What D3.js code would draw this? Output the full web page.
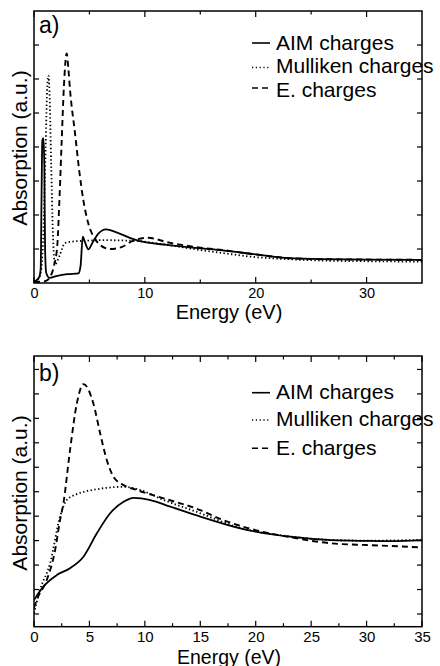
<!DOCTYPE html>
<html>
<head>
<meta charset="utf-8">
<script src="https://cdn.jsdelivr.net/npm/d3@7"></script>
<style>
  html, body { margin: 0; padding: 0; background: #fff; }
  svg { display: block; font-family: "Liberation Sans", Arial, sans-serif; }
</style>
</head>
<body>
<svg id="chart" width="440" height="666"></svg>
<script>
// ---------- Data ----------
const seriesNames = ["AIM charges", "Mulliken charges", "E. charges"];

// Panel a)
const aAimE = [0, 0.3, 0.5, 0.6, 0.68, 0.75, 0.85, 0.93, 1.0, 1.1, 1.4, 2.0, 3.0, 4.0, 4.2, 4.4, 4.6, 4.9, 5.3, 5.8, 6.5, 7.5, 8.9, 10, 12, 15, 17, 20, 23, 26, 30, 35];
const aAimV = [0.05, 0.1, 0.2, 0.4, 2.5, 4.2, 4.26, 3.5, 1.0, 0.3, 0.15, 0.2, 0.26, 0.28, 0.5, 1.36, 1.2, 0.99, 1.2, 1.45, 1.58, 1.48, 1.3, 1.2, 1.12, 1.02, 0.96, 0.84, 0.73, 0.7, 0.69, 0.68];

const aMulE = [0, 0.4, 0.6, 0.85, 1.05, 1.2, 1.3, 1.4, 1.55, 1.7, 1.9, 2.3, 2.8, 3.5, 4.5, 6, 9, 12, 15, 17, 20, 23, 26, 30, 35];
const aMulV = [0.05, 0.12, 0.3, 1.5, 4.0, 5.8, 6.1, 5.6, 3.5, 1.5, 0.55, 0.8, 1.18, 1.22, 1.24, 1.26, 1.24, 1.12, 0.97, 0.88, 0.76, 0.7, 0.66, 0.64, 0.63];

const aEE = [0, 1.0, 1.4, 1.8, 2.1, 2.3, 2.5, 2.7, 2.95, 3.1, 3.25, 3.7, 4.1, 4.45, 4.9, 5.5, 5.95, 6.85, 8.0, 8.9, 10.3, 12, 15, 17, 20, 23, 26, 30, 35];
const aEV = [0.03, 0.05, 0.15, 0.5, 1.1, 2.5, 4.2, 5.8, 6.75, 6.3, 5.68, 4.4, 3.25, 2.44, 1.75, 1.3, 1.12, 1.0, 1.07, 1.24, 1.33, 1.2, 1.04, 0.97, 0.84, 0.73, 0.7, 0.69, 0.68];

// Panel b)
const bAimE = [0, 0.84, 2.05, 3.25, 4.46, 5.67, 6.87, 8.08, 8.98, 10.5, 12.3, 15, 18.6, 23.1, 26.8, 30, 32.2, 35];
const bAimV = [0.57, 1.12, 1.59, 1.87, 2.34, 3.3, 4.12, 4.59, 4.75, 4.66, 4.39, 3.98, 3.5, 3.16, 3.02, 2.99, 2.98, 3.02];

const bMulE = [0, 0.54, 1.45, 2.35, 2.95, 3.86, 5.67, 8.08, 9.58, 11.7, 15, 18.6, 23.1, 26.8, 30, 35];
const bMulV = [0.03, 0.98, 2.07, 3.98, 4.66, 4.9, 5.1, 5.2, 5.07, 4.66, 4.12, 3.52, 3.17, 3.03, 3.0, 3.03];

const bEE = [0, 0.24, 1.15, 1.9, 2.35, 2.65, 3.25, 3.86, 4.46, 5.36, 5.97, 6.57, 7.17, 8.08, 9.28, 11.7, 15, 17, 19, 23.1, 26.8, 30, 32.2, 35];
const bEV = [0.25, 0.57, 1.39, 2.6, 3.84, 4.52, 6.7, 8.6, 9.4, 8.6, 7.38, 6.29, 5.61, 5.27, 5.07, 4.73, 4.25, 3.85, 3.55, 3.14, 2.89, 2.82, 2.78, 2.72];

// Tick labels
const aXTickLabels = [0, 10, 20, 30];
const bXTickLabels = [0, 5, 10, 15, 20, 25, 30, 35];

// ---------- Drawing ----------
const svg = d3.select("#chart");
const styles = [
  { dash: null, width: 1.8 },
  { dash: "1.4,2.4", width: 1.8 },
  { dash: "6,4", width: 1.9 }
];

function zip(e, v) { return e.map((d, i) => ({ e: d, v: v[i] })); }

function panel(opts) {
  const g = svg.append("g");
  const x = d3.scaleLinear().domain([0, 35]).range([opts.left, opts.right]);
  const y = d3.scaleLinear().domain(opts.yDomain).range([opts.bottom, opts.top]);

  // ticks
  const tickG = g.append("g").attr("stroke", "#000").attr("stroke-width", 1.2);
  function xt(v, len) {
    tickG.append("line").attr("x1", x(v)).attr("x2", x(v)).attr("y1", opts.bottom).attr("y2", opts.bottom - len);
    tickG.append("line").attr("x1", x(v)).attr("x2", x(v)).attr("y1", opts.top).attr("y2", opts.top + len);
  }
  opts.majorX.forEach(v => xt(v, 6));
  opts.minorX.forEach(v => xt(v, 3.5));
  opts.yTicks.forEach(v => {
    tickG.append("line").attr("x1", opts.left).attr("x2", opts.left + 5).attr("y1", y(v)).attr("y2", y(v));
    tickG.append("line").attr("x1", opts.right).attr("x2", opts.right - 5).attr("y1", y(v)).attr("y2", y(v));
  });

  // tick labels via axis
  const axis = d3.axisBottom(x).tickValues(opts.labels).tickSize(0).tickPadding(0).tickFormat(d3.format("d"));
  const ax = g.append("g").attr("transform", `translate(0,${opts.labelY})`).call(axis);
  ax.select(".domain").remove();
  ax.selectAll("text").attr("font-size", opts.tickFont).attr("fill", "#000")
    .attr("font-family", "'Liberation Sans', Arial, sans-serif").attr("dy", 0);

  // curves
  const line = d3.line().x(d => x(d.e)).y(d => y(d.v)).curve(d3.curveMonotoneX);
  const clipId = "clip" + opts.id;
  svg.append("clipPath").attr("id", clipId).append("rect")
    .attr("x", opts.left).attr("y", opts.top).attr("width", opts.right - opts.left).attr("height", opts.bottom - opts.top);
  opts.series.forEach((s, i) => {
    g.append("path").datum(s).attr("d", line).attr("fill", "none").attr("stroke", "#000")
      .attr("stroke-width", styles[i].width).attr("stroke-dasharray", styles[i].dash)
      .attr("stroke-linejoin", "round").attr("clip-path", `url(#${clipId})`);
  });

  // frame
  g.append("rect").attr("x", opts.left).attr("y", opts.top)
    .attr("width", opts.right - opts.left).attr("height", opts.bottom - opts.top)
    .attr("fill", "none").attr("stroke", "#000").attr("stroke-width", 1.5);

  // panel label
  g.append("text").attr("x", opts.left + 5).attr("y", opts.panelLabelY).attr("font-size", 23).text(opts.panelLabel);

  // legend
  opts.legendY.forEach((ly, i) => {
    g.append("line").attr("x1", 252).attr("x2", 270).attr("y1", ly.line).attr("y2", ly.line)
      .attr("stroke", "#000").attr("stroke-width", i === 1 ? 1.3 : 1.6)
      .attr("stroke-dasharray", i === 0 ? null : (i === 1 ? "1.2,2.6" : "6,4"));
    g.append("text").attr("x", 276).attr("y", ly.text).attr("font-size", 21).text(seriesNames[i]);
  });

  // axis titles
  g.append("text").attr("x", 229).attr("y", opts.xTitleY).attr("text-anchor", "middle").attr("font-size", opts.xTitleFont).text("Energy (eV)");
  g.append("text").attr("transform", `translate(27,${opts.yTitleC}) rotate(-90)`).attr("text-anchor", "middle")
    .attr("font-size", 21).text("Absorption (a.u.)");
}

panel({
  id: "a", left: 34, right: 422, top: 11, bottom: 283, yDomain: [0, 8],
  majorX: [0, 10, 20, 30], minorX: [5, 15, 25], yTicks: [1, 2, 3, 4, 5, 6, 7],
  labels: aXTickLabels, labelY: 297.5, tickFont: 14.5,
  series: [zip(aAimE, aAimV), zip(aMulE, aMulV), zip(aEE, aEV)],
  panelLabel: "a)", panelLabelY: 33,
  legendY: [{ line: 43, text: 50 }, { line: 67.5, text: 72.7 }, { line: 88, text: 96.7 }],
  xTitleY: 319, xTitleFont: 20, yTitleC: 148
});

panel({
  id: "b", left: 34, right: 422, top: 356, bottom: 626.7, yDomain: [-0.52, 10.55],
  majorX: [0, 5, 10, 15, 20, 25, 30, 35], minorX: [2.5, 7.5, 12.5, 17.5, 22.5, 27.5, 32.5],
  yTicks: [0, 1, 2, 3, 4, 5, 6, 7, 8, 9, 10],
  labels: bXTickLabels, labelY: 642, tickFont: 15,
  series: [zip(bAimE, bAimV), zip(bMulE, bMulV), zip(bEE, bEV)],
  panelLabel: "b)", panelLabelY: 381,
  legendY: [{ line: 392.7, text: 399 }, { line: 420, text: 426 }, { line: 448.3, text: 455 }],
  xTitleY: 663.5, xTitleFont: 19.5, yTitleC: 493
});
</script>
</body>
</html>
